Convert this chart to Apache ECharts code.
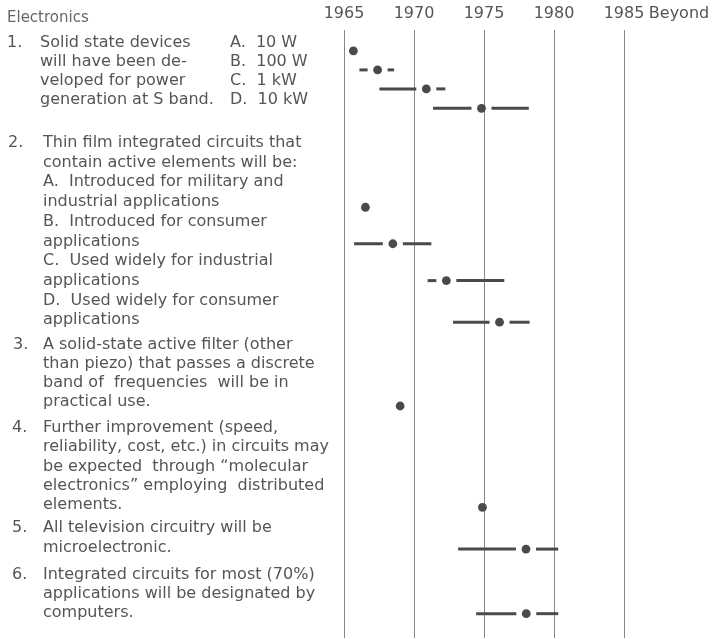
<!DOCTYPE html>
<html>
<head>
<meta charset="utf-8">
<script src="https://cdn.jsdelivr.net/npm/echarts@6/dist/echarts.min.js"></script>
<style>
html,body{margin:0;padding:0;background:#fff;}
#chart{width:714px;height:639px;}
</style>
</head>
<body>
<div id="chart"></div>
<script>
// ---- data ----
const yearTicks = [1965, 1970, 1975, 1980, 1985, 1990];
const yearLabels = ['1965', '1970', '1975', '1980', '1985', 'Beyond'];
const itemNames = ['1A', '1B', '1C', '1D', '2A', '2B', '2C', '2D', '3', '4', '5', '6'];
// row position of each forecast (in text-line units from the top of the plot)
const itemRow = [1.1, 2.1, 3.1, 4.12, 9.33, 11.25, 13.19, 15.38, 19.79, 25.12, 27.32, 30.72];
const medianYear = [1965.67, 1967.4, 1970.88, 1974.82, 1966.53, 1968.49, 1972.31, 1976.11, 1969.01, 1974.89, 1978.0, 1978.02];
const lowYear = [null, 1966.1, 1967.53, 1971.36, null, 1965.72, 1970.97, 1972.79, null, null, 1973.15, 1974.44];
const highYear = [null, 1968.58, 1972.24, 1978.2, null, 1971.24, 1976.45, 1978.26, null, null, 1980.3, 1980.3];

const headerText = 'Electronics';
const q1Lines = ['Solid state devices', 'will have been de-', 'veloped for power', 'generation at S band.'];
const q1Options = ['A.  10 W', 'B.  100 W', 'C.  1 kW', 'D.  10 kW'];
const q2Lines = ['Thin film integrated circuits that', 'contain active elements will be:', 'A.  Introduced for military and', 'industrial applications', 'B.  Introduced for consumer', 'applications', 'C.  Used widely for industrial', 'applications', 'D.  Used widely for consumer', 'applications'];
const q3Lines = ['A solid-state active filter (other', 'than piezo) that passes a discrete', 'band of  frequencies  will be in', 'practical use.'];
const q4Lines = ['Further improvement (speed,', 'reliability, cost, etc.) in circuits may', 'be expected  through \u201Cmolecular', 'electronics\u201D employing  distributed', 'elements.'];
const q5Lines = ['All television circuitry will be', 'microelectronic.'];
const q6Lines = ['Integrated circuits for most (70%)', 'applications will be designated by', 'computers.'];
const qNumbers = ['1.', '2.', '3.', '4.', '5.', '6.'];

// ---- layout ----
const FONT = '"DejaVu Sans", sans-serif';
const TEXT_COLOR = '#555';
const graphics = [];
function addText(str, x, y, size, color) {
  graphics.push({
    type: 'text', x: x, y: y, silent: true,
    style: { text: str, fill: color || TEXT_COLOR, font: (size || 16) + 'px ' + FONT, verticalAlign: 'middle', align: 'left' }
  });
}
function addBlock(lines, x, y0, lh) {
  lines.forEach(function (s, i) { addText(s, x, y0 + i * lh); });
}
addText(headerText, 7, 18, 15, '#666');
const blocks = [
  { lines: q1Lines, numX: 7, x: 40, y: 43, lh: 19 },
  { lines: q2Lines, numX: 8, x: 43, y: 143, lh: 19.67 },
  { lines: q3Lines, numX: 13, x: 43, y: 345, lh: 19 },
  { lines: q4Lines, numX: 12, x: 43, y: 428, lh: 19.25 },
  { lines: q5Lines, numX: 12, x: 43, y: 528, lh: 20 },
  { lines: q6Lines, numX: 12, x: 43, y: 575, lh: 19 }
];
blocks.forEach(function (b, i) {
  addText(qNumbers[i], b.numX, b.y);
  addBlock(b.lines, b.x, b.y, b.lh);
});
addBlock(q1Options, 230, 43, 19);

const seriesData = itemNames.map(function (n, i) {
  return { name: n, value: [lowYear[i] == null ? NaN : lowYear[i], medianYear[i], highYear[i] == null ? NaN : highYear[i], itemRow[i]] };
});

const MARK = '#4a4a4a';
const GAP = 10;
function renderItem(params, api) {
  const low = api.value(0), mid = api.value(1), high = api.value(2), row = api.value(3);
  const c = api.coord([mid, row]);
  const children = [];
  if (isFinite(low)) {
    const p = api.coord([low, row]);
    if (c[0] - GAP > p[0]) children.push({ type: 'line', shape: { x1: p[0], y1: c[1], x2: c[0] - GAP, y2: c[1] }, style: { stroke: MARK, lineWidth: 3 } });
  }
  if (isFinite(high)) {
    const p = api.coord([high, row]);
    if (p[0] > c[0] + GAP) children.push({ type: 'line', shape: { x1: c[0] + GAP, y1: c[1], x2: p[0], y2: c[1] }, style: { stroke: MARK, lineWidth: 3 } });
  }
  children.push({ type: 'circle', shape: { cx: c[0], cy: c[1], r: 4.4 }, style: { fill: MARK } });
  return { type: 'group', children: children };
}

const chart = echarts.init(document.getElementById('chart'), null, { renderer: 'canvas' });
chart.setOption({
  backgroundColor: '#fff',
  animation: false,
  grid: { left: 344, right: 20, top: 30, bottom: 1, containLabel: false },
  xAxis: {
    type: 'value', position: 'top', min: 1965, max: 1990, interval: 5,
    axisLine: { show: false }, axisTick: { show: false },
    axisLabel: {
      margin: 8, color: '#555', fontSize: 16, fontFamily: FONT,
      formatter: function (v) {
        const i = yearTicks.indexOf(v);
        const t = i >= 0 ? yearLabels[i] : '';
        return v === 1990 ? '{b|' + t + '}' : t;
      },
      rich: { b: { fontSize: 16, fontFamily: FONT, color: '#555', padding: [0, 30, 0, 0] } }
    },
    splitLine: { show: true, showMaxLine: false, lineStyle: { color: '#888', width: 1 } }
  },
  yAxis: { type: 'value', inverse: true, min: 0, max: 32, show: false, splitLine: { show: false } },
  graphic: graphics,
  series: [{
    type: 'custom', renderItem: renderItem, clip: false,
    encode: { x: 1, y: 3 },
    data: seriesData
  }]
});
</script>
</body>
</html>
